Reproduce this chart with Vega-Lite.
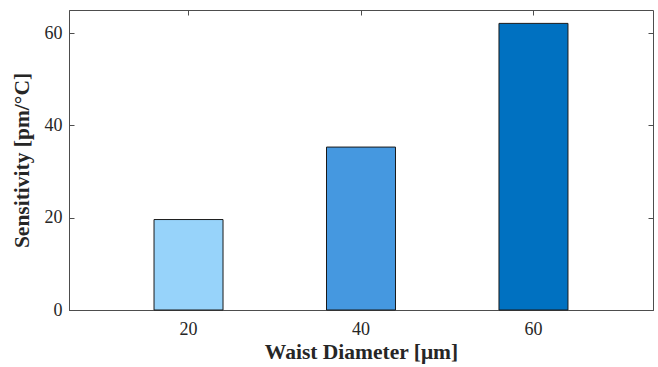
{
  "$schema": "https://vega.github.io/schema/vega-lite/v6.json",
  "width": 584,
  "height": 300,
  "autosize": "none",
  "padding": {"left": 69, "top": 10, "right": 5, "bottom": 57},
  "background": "white",
  "data": {
    "values": [
      {"diameter": "20", "sensitivity": 19.6},
      {"diameter": "40", "sensitivity": 35.3},
      {"diameter": "60", "sensitivity": 62.1}
    ]
  },
  "config": {
    "font": "Liberation Serif",
    "view": {"stroke": "#4d4d4d", "strokeWidth": 1},
    "axis": {
      "domainColor": "#4d4d4d",
      "tickColor": "#4d4d4d",
      "tickSize": -5,
      "labelFont": "Liberation Serif",
      "labelFontSize": 18,
      "labelColor": "#262626",
      "titleFont": "Liberation Serif",
      "titleFontSize": 21.5,
      "titleFontWeight": "bold",
      "titleColor": "#262626",
      "grid": false
    }
  },
  "layer": [
    {
      "mark": {"type": "bar", "stroke": "#1a1a1a", "strokeWidth": 1},
      "encoding": {
        "x": {
          "field": "diameter",
          "type": "nominal",
          "sort": null,
          "scale": {"paddingInner": 0.6, "paddingOuter": 0.493},
          "axis": {"orient": "bottom", "labelAngle": 0, "labelPadding": 15, "title": "Waist Diameter [μm]", "titlePadding": 3}
        },
        "y": {
          "field": "sensitivity",
          "type": "quantitative",
          "scale": {"domain": [0, 65], "nice": false, "zero": true},
          "axis": {"orient": "left", "values": [0, 20, 40, 60], "labelPadding": 12, "title": "Sensitivity [pm/°C]", "titlePadding": 11}
        },
        "color": {
          "field": "diameter",
          "type": "nominal",
          "legend": null,
          "scale": {"domain": ["20", "40", "60"], "range": ["#97d3fa", "#4598e0", "#0071c1"]}
        }
      }
    },
    {
      "mark": {"type": "bar", "opacity": 0},
      "encoding": {
        "x": {
          "field": "diameter",
          "type": "nominal",
          "sort": null,
          "axis": {"orient": "top", "labels": false, "title": null, "domain": false}
        },
        "y": {
          "field": "sensitivity",
          "type": "quantitative",
          "axis": {"orient": "right", "values": [0, 20, 40, 60], "labels": false, "title": null, "domain": false}
        }
      }
    }
  ],
  "resolve": {"axis": {"x": "independent", "y": "independent"}}
}
